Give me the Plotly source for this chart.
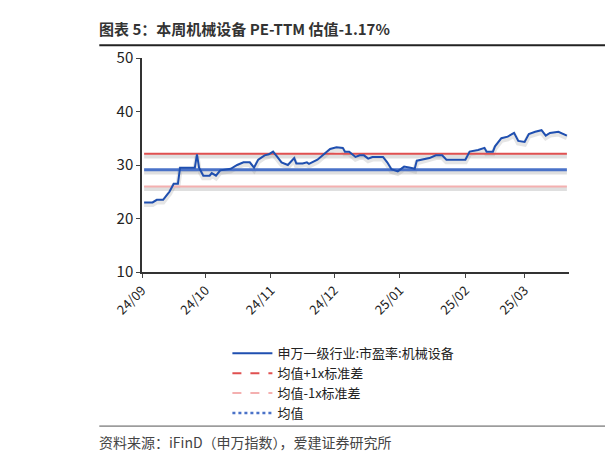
import plotly.graph_objects as go

dates = ["2024-09-02","2024-09-06","2024-09-08","2024-09-11","2024-09-13","2024-09-14","2024-09-16","2024-09-18","2024-09-19",
"2024-09-26","2024-09-27","2024-09-28","2024-09-30","2024-10-03","2024-10-04","2024-10-06","2024-10-08","2024-10-13","2024-10-16",
"2024-10-19","2024-10-22","2024-10-24","2024-10-26","2024-10-29","2024-10-31","2024-11-02","2024-11-04","2024-11-06","2024-11-09",
"2024-11-10","2024-11-12","2024-11-13","2024-11-16","2024-11-18","2024-11-19","2024-11-23","2024-11-26","2024-11-29","2024-12-02",
"2024-12-05","2024-12-06","2024-12-08","2024-12-11","2024-12-13","2024-12-15","2024-12-17","2024-12-19","2024-12-24","2024-12-26",
"2024-12-28","2024-12-31","2025-01-03","2025-01-06","2025-01-08","2025-01-09","2025-01-11","2025-01-15","2025-01-18","2025-01-21",
"2025-01-23","2025-02-01","2025-02-03","2025-02-07","2025-02-10","2025-02-11","2025-02-14","2025-02-15","2025-02-18","2025-02-21",
"2025-02-24","2025-02-26","2025-03-01","2025-03-03","2025-03-06","2025-03-09","2025-03-11","2025-03-13","2025-03-17","2025-03-21"]
pe = [23,23,23.5,23.5,24.5,25,26.5,26.5,29.5,
29.5,32,29.5,28,28,28.5,28,29,29.3,30,
30.5,30.5,29.5,31,31.8,32,32.5,31.5,30.5,30,
30.5,31.3,30.3,30.3,30.5,30.2,31,32,33,33.3,
33.2,32.5,32.5,31.5,31.8,31.8,31.2,31.5,31.5,30.5,
29.2,28.8,29.7,29.5,29.3,30.8,31,31.3,31.8,31.8,
31,31,32.5,32.8,33.2,32.5,32.5,33.5,35,35.3,
36,34.5,34.3,35.8,36.2,36.5,35.5,36,36.2,35.5]
mean_val = 29.1
plus_sd = 32.1
minus_sd = 26.0
tick_vals = ["2024-09-01","2024-10-01","2024-11-01","2024-12-01","2025-01-01","2025-02-01","2025-03-01"]
tick_text = ["24/09","24/10","24/11","24/12","25/01","25/02","25/03"]

F = "Noto Sans CJK SC"
fig = go.Figure()
ends = [dates[0], dates[-1]]
for v in [plus_sd, mean_val, minus_sd]:
    fig.add_trace(go.Scatter(x=ends, y=[v-0.4, v-0.4], mode="lines", line=dict(color="rgba(150,150,150,0.3)", width=5), showlegend=False, hoverinfo="skip"))
fig.add_trace(go.Scatter(x=dates, y=[p-0.4 for p in pe], mode="lines", line=dict(color="rgba(150,150,150,0.25)", width=5), showlegend=False, hoverinfo="skip"))
fig.add_trace(go.Scatter(x=ends, y=[plus_sd]*2, mode="lines", line=dict(color="#e05050", width=2), showlegend=False))
fig.add_trace(go.Scatter(x=ends, y=[minus_sd]*2, mode="lines", line=dict(color="#f4b0b0", width=2), showlegend=False))
fig.add_trace(go.Scatter(x=ends, y=[mean_val]*2, mode="lines", line=dict(color="#4a72c8", width=3), showlegend=False))
fig.add_trace(go.Scatter(x=dates, y=pe, mode="lines", name="申万一级行业:市盈率:机械设备", line=dict(color="#1f4fb0", width=2)))
fig.add_trace(go.Scatter(x=[None], y=[None], mode="lines", name="均值+1x标准差", line=dict(color="#e05050", width=2, dash="dash")))
fig.add_trace(go.Scatter(x=[None], y=[None], mode="lines", name="均值-1x标准差", line=dict(color="#f4b0b0", width=2, dash="dash")))
fig.add_trace(go.Scatter(x=[None], y=[None], mode="lines", name="均值", line=dict(color="#4a72c8", width=2.5, dash="dot")))

fig.update_layout(
    width=613, height=463, paper_bgcolor="white", plot_bgcolor="white",
    margin=dict(l=134, r=52, t=50, b=199),
    font=dict(family=F, size=13, color="#222"),
    legend=dict(x=0.2, y=-0.31, xanchor="left", yanchor="top", traceorder="normal", font=dict(size=13),
                itemwidth=40, tracegroupgap=0, bgcolor="rgba(0,0,0,0)"),
    xaxis=dict(type="date", range=["2024-09-01","2025-03-22"], tickvals=tick_vals, ticktext=tick_text, tickangle=-45,
               showline=True, linecolor="#333", linewidth=1.5, ticks="outside", ticklen=4, showgrid=False, tickfont=dict(size=13)),
    yaxis=dict(range=[10, 50], dtick=10, showline=True, linecolor="#333", linewidth=1.5, ticks="outside", ticklen=4,
               showgrid=False, zeroline=False, tickfont=dict(size=15)),
    shapes=[
        dict(type="line", xref="paper", yref="paper", x0=-0.1, x1=1.12, y0=1.06, y1=1.06, line=dict(color="#222", width=2)),
        dict(type="line", xref="paper", yref="paper", x0=-0.1, x1=1.12, y0=-0.72, y1=-0.72, line=dict(color="#555", width=1)),
    ],
    annotations=[
        dict(text="<b>图表 5：本周机械设备 PE-TTM 估值-1.17%</b>", xref="paper", yref="paper", x=-0.105, y=1.08,
             xanchor="left", yanchor="bottom", showarrow=False, font=dict(size=15, color="#333")),
        dict(text="资料来源：iFinD（申万指数），爱建证券研究所", xref="paper", yref="paper", x=-0.105, y=-0.74,
             xanchor="left", yanchor="top", showarrow=False, font=dict(size=14, color="#444")),
    ],
)
fig.write_html("out.html")
